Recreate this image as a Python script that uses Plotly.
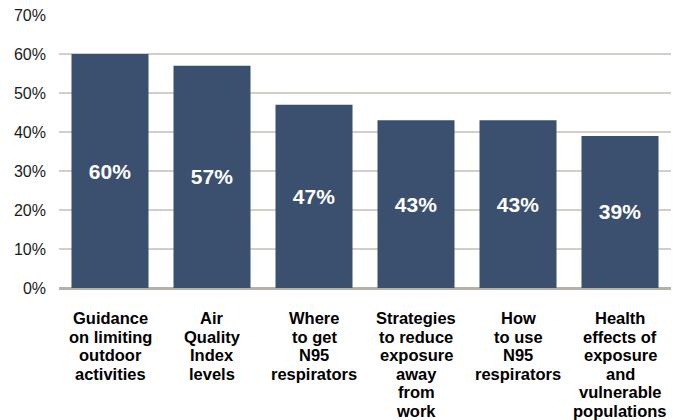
import plotly.graph_objects as go

categories = [
    "Guidance<br>on limiting<br>outdoor<br>activities",
    "Air<br>Quality<br>Index<br>levels",
    "Where<br>to get<br>N95<br>respirators",
    "Strategies<br>to reduce<br>exposure<br>away<br>from<br>work",
    "How<br>to use<br>N95<br>respirators",
    "Health<br>effects of<br>exposure<br>and<br>vulnerable<br>populations",
]
values = [60, 57, 47, 43, 43, 39]
y_ticks = [0, 10, 20, 30, 40, 50, 60, 70]

BAR = "#3b4f6e"
GRID = "#d3cfc8"
FONT = "Liberation Sans, Arial"

fig = go.Figure(go.Bar(
    x=categories, y=values,
    marker=dict(color=BAR, line=dict(width=0)),
    text=[f"{v}%" for v in values],
    textposition="inside", insidetextanchor="middle",
    textfont=dict(family=FONT, size=21, color="white", weight="bold"),
    hoverinfo="skip",
))

# category labels, one annotation per line so the leading can be tight
for cat in categories:
    for i, line in enumerate(cat.split("<br>")):
        fig.add_annotation(
            x=cat, xref="x", y=0, yref="paper",
            text=line, showarrow=False, yanchor="middle",
            yshift=-(30 + i * 18.6),
            font=dict(family=FONT, size=16.5, color="black", weight="bold"),
        )

fig.update_layout(
    width=673, height=420,
    margin=dict(l=59, r=2, t=15, b=132),
    paper_bgcolor="white", plot_bgcolor="white",
    bargap=0.245, showlegend=False,
    font=dict(family=FONT, color="#1a1a1a"),
)
fig.update_xaxes(showgrid=False, showline=False, ticks="", showticklabels=False)
fig.update_yaxes(
    range=[0, 70], tickvals=y_ticks, ticktext=[f"{t}%" for t in y_ticks],
    showgrid=True, gridcolor=GRID, gridwidth=1.5,
    zeroline=True, zerolinecolor="#b7b0a6", zerolinewidth=3,
    tickfont=dict(size=16, color="#1a1a1a"),
    ticklabelstandoff=12,
)

fig.write_html("out.html", config={"displayModeBar": False},
               post_script="document.body.style.margin='0';")
